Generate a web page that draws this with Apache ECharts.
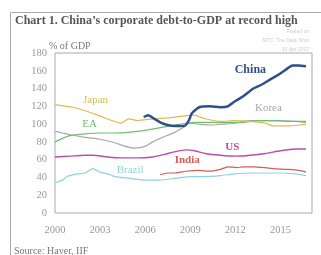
<!DOCTYPE html>
<html>
<head>
<meta charset="utf-8">
<script src="https://cdn.jsdelivr.net/npm/echarts@6/dist/echarts.min.js"></script>
<style>
  html, body { margin: 0; padding: 0; background: #fff; }
  #chart { width: 321px; height: 255px; }
</style>
</head>
<body>
<div id="chart"></div>
<script>
// x = years since 2000
var yTicks = [0, 20, 40, 60, 80, 100, 120, 140, 160, 180];
var xTickYears = [2000, 2003, 2006, 2009, 2012, 2015];

var chinaX = [5.9, 6.2, 6.6, 7, 7.5, 8, 8.6, 8.9, 9.1, 9.6, 10.3, 11, 11.5, 12, 12.5, 13.2, 13.7, 14.3, 14.9, 15.5, 15.8, 16.2, 16.7];
var chinaY = [108, 110, 106, 102, 99, 98, 98, 104, 112, 119, 120, 119, 120, 126, 131, 140, 144, 150, 156, 163, 166, 166, 165];

var japanX = [0, 1.2, 2, 3, 3.8, 4.4, 4.9, 5.5, 6.5, 7.5, 8.5, 9.2, 10, 11, 12, 13, 14, 14.5, 15.5, 16.3, 16.7];
var japanY = [122, 119, 115, 109, 104, 101, 106, 104, 106, 107, 109, 110, 106, 103, 104, 103, 101, 98, 98, 99, 100];

var eaX = [0, 0.5, 1, 2, 3, 4, 5, 6, 7, 8, 8.7, 9.5, 10.5, 11.5, 12.5, 13.5, 14.5, 15.5, 16.7];
var eaY = [80, 84, 87, 89, 90, 90, 91, 93, 96, 99, 101, 102, 102, 102, 102, 104, 104, 103, 103];

var koreaX = [0, 0.5, 1, 2, 3, 4, 4.5, 5.3, 6, 6.5, 7, 8, 8.5, 9, 9.5, 10.5, 11, 12, 12.5, 13, 14, 15, 16, 16.7];
var koreaY = [92, 90, 88, 85, 83, 79, 76, 73, 75, 80, 84, 91, 96, 101, 100, 99, 100, 101, 103, 104, 104, 104, 103, 102];

var usX = [0, 1, 2, 2.5, 3.5, 4.5, 5.5, 6.5, 7.3, 8, 8.7, 9.3, 10, 11, 12, 13, 14, 15, 16, 16.7];
var usY = [63, 64, 65, 65, 63, 62, 62, 63, 66, 69, 71, 70, 67, 65, 64, 65, 67, 70, 72, 72];

var indiaX = [7, 7.5, 8, 8.7, 9.5, 10.3, 11, 11.5, 12.1, 12.5, 13.2, 14, 14.5, 15.5, 16.2, 16.7];
var indiaY = [43, 45, 45, 47, 48, 47, 49, 52, 51, 52, 52, 51, 50, 49, 48, 46];

var brazilX = [0, 0.5, 0.8, 1.5, 2, 2.3, 2.5, 3, 3.5, 4, 5, 6, 7, 7.5, 8, 9, 10, 11, 12, 13, 14, 15, 16, 16.7];
var brazilY = [34, 37, 41, 44, 45, 48, 50, 46, 44, 41, 39, 37, 37, 38, 39, 41, 41, 42, 44, 45, 45, 45, 44, 42];

function pairs(xs, ys) {
  return xs.map(function (x, i) { return [x, ys[i]]; });
}

var serif = 'Liberation Serif';

function line(name, xs, ys, color, width, labelCoord, labelStyle) {
  return {
    name: name,
    type: 'line',
    data: pairs(xs, ys),
    showSymbol: false,
    smooth: 0.2,
    lineStyle: { color: color, width: width },
    z: name === 'China' ? 5 : 3,
    markPoint: {
      symbol: 'rect',
      symbolSize: 1,
      itemStyle: { color: 'rgba(0,0,0,0)' },
      label: Object.assign({
        show: true,
        position: 'inside',
        formatter: name,
        color: color,
        fontFamily: serif,
        fontSize: 11
      }, labelStyle || {}),
      data: [{ coord: labelCoord }]
    }
  };
}

var myChart = echarts.init(document.getElementById('chart'));
var option = {
  animation: false,
  backgroundColor: '#fff',
  grid: {
    left: 55, top: 53, right: 9, bottom: 42,
    show: true, borderColor: '#aaa', borderWidth: 1
  },
  xAxis: {
    type: 'value',
    min: 0, max: 17.1, interval: 3,
    axisLine: { show: false },
    axisTick: { show: false },
    splitLine: { show: false },
    axisLabel: {
      color: '#999', fontFamily: serif, fontSize: 10.5, margin: 12,
      formatter: function (v) { return xTickYears.indexOf(2000 + v) >= 0 ? String(2000 + v) : ''; }
    }
  },
  yAxis: {
    type: 'value',
    min: yTicks[0], max: yTicks[yTicks.length - 1], interval: 20,
    axisLine: { show: false },
    axisTick: { show: false },
    splitLine: { show: false },
    axisLabel: { color: '#999', fontFamily: serif, fontSize: 10.5, margin: 8 }
  },
  graphic: [
    { type: 'rect', shape: { x: 10.5, y: 12.5, width: 320, height: 260 }, style: { fill: 'none', stroke: '#aaa', lineWidth: 1 } },
    { type: 'text', left: 15, top: 15, style: { text: 'Chart 1. China\u2019s corporate debt-to-GDP at record high', fill: '#555', font: 'bold 12px "Liberation Serif"' } },
    { type: 'text', right: 12, top: 29, style: { text: 'Posted on', fill: '#ccc', font: '5px "Liberation Sans"', align: 'right' } },
    { type: 'text', right: 12, top: 38, style: { text: 'MTC: The Daily Shot', fill: '#ccc', font: '5px "Liberation Sans"', align: 'right' } },
    { type: 'text', right: 12, top: 47, style: { text: '10 Apr 2017', fill: '#ccc', font: '5px "Liberation Sans"', align: 'right' } },
    { type: 'text', left: 49, top: 41, style: { text: '% of GDP', fill: '#777', font: '10px "Liberation Serif"' } },
    { type: 'text', left: 14, top: 246, style: { text: 'Source: Haver, IIF', fill: '#777', font: '10px "Liberation Serif"' } }
  ],
  series: [
    line('Korea', koreaX, koreaY, '#a8a8a8', 1.2, [14.2, 118]),
    line('EA', eaX, eaY, '#6cbf6c', 1.2, [2.3, 100]),
    line('Japan', japanX, japanY, '#e5b84c', 1.2, [2.7, 127]),
    line('US', usX, usY, '#c04aa8', 1.4, [11.8, 74], { fontWeight: 'bold' }),
    line('India', indiaX, indiaY, '#d65a5a', 1.2, [8.8, 60], { fontWeight: 'bold' }),
    line('Brazil', brazilX, brazilY, '#8fd2e2', 1.2, [5, 48]),
    line('China', chinaX, chinaY, '#2f4f8f', 2.5, [13, 161], { fontWeight: 'bold', fontSize: 12 })
  ]
};
myChart.setOption(option);
</script>
</body>
</html>
